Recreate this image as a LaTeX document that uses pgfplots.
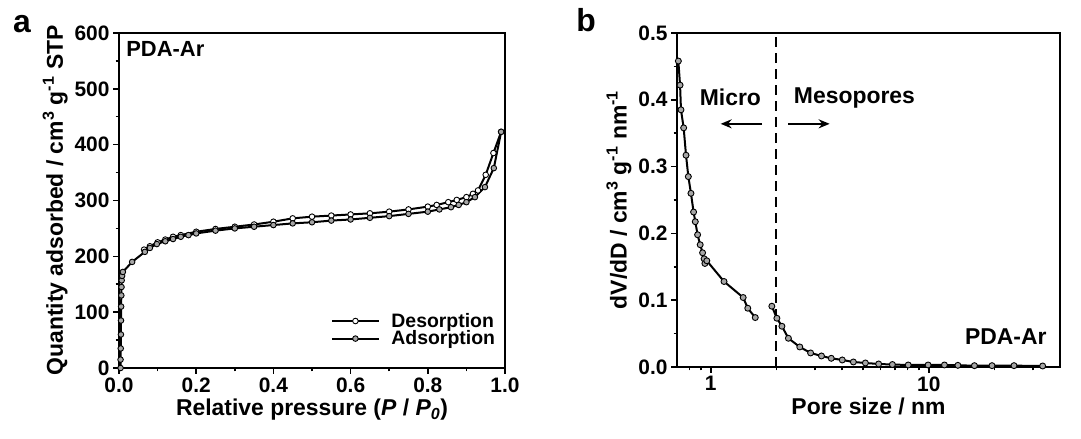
\documentclass[border=0pt]{standalone}
\usepackage{fontspec}
\setmainfont{Liberation Sans}
\usepackage{pgfplots}
\pgfplotsset{compat=1.18}
\usetikzlibrary{arrows.meta}

\pgfplotsset{
  myaxis/.style={
    scale only axis,
    axis line style={line width=2bp},
    every tick/.style={line width=1.5bp, black},
    major tick length=6bp, minor tick length=3.5bp,
    tick align=outside,
    xtick pos=bottom, ytick pos=left,
    tick label style={font=\fontsize{21}{21}\selectfont\bfseries},
    label style={font=\fontsize{23}{23}\selectfont\bfseries},
    /pgf/number format/assume math mode=true,
    clip=false,
  },
}

\begin{document}
\begin{tikzpicture}[x=1bp,y=1bp]
\path[use as bounding box] (0,0) rectangle (1081,439);

\node[font=\fontsize{32}{32}\selectfont\bfseries] at (22,415) {a};
\node[font=\fontsize{32}{32}\selectfont\bfseries] at (586,419) {b};

% ---------------- panel a
\begin{axis}[myaxis,
  at={(119bp,71bp)}, anchor=south west,
  width=386bp, height=335bp,
  xmin=0, xmax=1, ymin=0, ymax=600,
  xtick={0,0.2,0.4,0.6,0.8,1},
  minor xtick={0.1,0.3,0.5,0.7,0.9},
  ytick={0,100,200,300,400,500,600},
  minor ytick={50,150,250,350,450,550},
  xticklabel style={/pgf/number format/.cd,fixed,fixed zerofill,precision=1},
  xlabel={Relative pressure (\textit{P} / \textit{P}\textsubscript{\textit{0}})},
  ylabel={Quantity adsorbed / cm\textsuperscript{3} g\textsuperscript{-1} STP},
  legend style={at={(rel axis cs:0.985,0.055)}, anchor=south east, draw=none, fill=none,
    font=\fontsize{19.5}{19.5}\selectfont\bfseries, row sep=0bp,
    nodes={inner sep=1bp},
    /tikz/every odd column/.append style={column sep=10bp}},
  legend cell align=left,
  legend image code/.code={\draw[mark repeat=2,mark phase=2,line width=2bp] plot coordinates {(0bp,0bp) (23bp,0bp) (47bp,0bp)};},
]
\addplot[black, line width=2bp, mark=*, mark size=2.8bp, mark options={fill=white, draw=black, line width=0.9bp}]
coordinates {
(0.99,423) (0.97,385) (0.95,346) (0.93,318) (0.917,312) (0.90,306) (0.875,301) (0.853,297)
(0.823,292) (0.80,289) (0.75,284) (0.70,280) (0.65,277) (0.60,275) (0.55,273) (0.50,271)
(0.45,268) (0.40,262) (0.35,257) (0.30,253) (0.25,249) (0.20,244) (0.16,238) (0.14,235)
(0.12,230) (0.10,225) (0.08,218) (0.065,212)
};
\addlegendentry{Desorption}
\addplot[black, line width=2bp, mark=*, mark size=2.8bp, mark options={fill=gray!70, draw=black, line width=0.9bp}]
coordinates {
(0.004,0) (0.004,15) (0.0045,35) (0.005,60) (0.0052,85) (0.0055,110) (0.006,130) (0.0065,145)
(0.007,157) (0.008,165) (0.01,172) (0.034,190) (0.067,208) (0.08,215) (0.098,222)
(0.12,227) (0.14,231) (0.16,235) (0.18,238) (0.20,241) (0.25,246) (0.30,250) (0.35,253)
(0.40,256) (0.45,259) (0.50,261) (0.55,264) (0.60,266) (0.65,269) (0.70,272) (0.75,276)
(0.80,280) (0.83,284) (0.86,288) (0.88,292) (0.90,297) (0.922,306) (0.948,324) (0.971,358)
(0.99,423)
};
\addlegendentry{Adsorption}
\node[anchor=north west, font=\fontsize{22}{22}\selectfont\bfseries] at (rel axis cs:0.01,0.985) {PDA-Ar};
\end{axis}

% ---------------- panel b
\begin{axis}[myaxis,
  at={(677bp,72bp)}, anchor=south west,
  width=383bp, height=334bp,
  xmode=log, xmin=0.7, xmax=40, ymin=0, ymax=0.5,
  xtick={1,10}, xticklabels={1,10},
  minor xtick={0.8,0.9,2,3,4,5,6,7,8,9,20,30},
  ytick={0,0.1,0.2,0.3,0.4,0.5},
  minor ytick={0.05,0.15,0.25,0.35,0.45},
  yticklabel style={/pgf/number format/.cd,fixed,fixed zerofill,precision=1},
  xlabel={Pore size / nm},
  ylabel={dV/dD / cm\textsuperscript{3} g\textsuperscript{-1} nm\textsuperscript{-1}},
]
\addplot[black, line width=2bp, mark=*, mark size=3bp, mark options={fill=gray!70, draw=black, line width=0.9bp}]
coordinates {
(0.710,0.458) (0.723,0.422) (0.730,0.385) (0.751,0.358) (0.770,0.317) (0.789,0.285)
(0.811,0.260) (0.834,0.232) (0.849,0.2175) (0.870,0.198) (0.894,0.183) (0.917,0.171)
(0.932,0.162) (0.940,0.155) (0.959,0.159) (1.15,0.128) (1.408,0.104) (1.478,0.088) (1.60,0.074)
};
\addplot[black, line width=2bp, mark=*, mark size=3bp, mark options={fill=gray!70, draw=black, line width=0.9bp}]
coordinates {
(1.906,0.091) (2.01,0.073) (2.12,0.061) (2.27,0.043) (2.56,0.030) (2.87,0.021) (3.22,0.0165)
(3.57,0.013) (4.01,0.0105) (4.51,0.0075) (5.12,0.006) (5.89,0.0045) (6.81,0.0037) (8.05,0.003)
(9.93,0.003) (11.8,0.003) (13.6,0.0025) (16.2,0.002) (19.5,0.002) (24.6,0.002) (33.3,0.0015)
};
\addplot[black, line width=2bp, dash pattern=on 10bp off 6bp] coordinates {(2,0) (2,0.5)};
\draw[line width=2bp, -{Stealth[length=11bp,width=9bp]}] (axis cs:1.72,0.364) -- (axis cs:1.11,0.364);
\draw[line width=2bp, -{Stealth[length=11bp,width=9bp]}] (axis cs:2.27,0.364) -- (axis cs:3.51,0.364);
\node[font=\fontsize{23}{23}\selectfont\bfseries] at (axis cs:1.23,0.403) {Micro};
\node[font=\fontsize{23}{23}\selectfont\bfseries] at (axis cs:4.56,0.403) {Mesopores};
\node[anchor=east, font=\fontsize{23}{23}\selectfont\bfseries] at (axis cs:36,0.045) {PDA-Ar};
\end{axis}
\end{tikzpicture}
\end{document}
